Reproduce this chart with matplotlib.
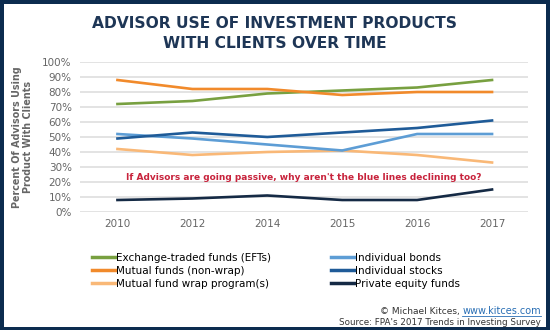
import matplotlib.pyplot as plt
from matplotlib.patches import Rectangle
from matplotlib.lines import Line2D

# survey years (categorical, evenly spaced)
years = ["2010", "2012", "2014", "2015", "2016", "2017"]

etf = [72, 74, 79, 81, 83, 88]
mutual_nonwrap = [88, 82, 82, 78, 80, 80]
mutual_wrap = [42, 38, 40, 41, 38, 33]
bonds = [52, 49, 45, 41, 52, 52]
stocks = [49, 53, 50, 53, 56, 61]
private_eq = [8, 9, 11, 8, 8, 15]

names = ["Exchange-traded funds (EFTs)", "Mutual funds (non-wrap)", "Mutual fund wrap program(s)",
         "Individual bonds", "Individual stocks", "Private equity funds"]
colors = ["#78a040", "#f18a2b", "#f9b877", "#5d9dd5", "#1f5b98", "#152a45"]
series = [etf, mutual_nonwrap, mutual_wrap, bonds, stocks, private_eq]

navy = "#0c2c4f"
W, H = 550, 330

fig = plt.figure(figsize=(5.5, 3.3), dpi=100)
fig.patch.set_facecolor(navy)
fig.add_artist(Rectangle((3.5 / W, 3 / H), (W - 8) / W, (H - 6.5) / H,
                         transform=fig.transFigure, facecolor="white", edgecolor="none", zorder=0))

fig.text(275 / W, 1 - 23 / H, "ADVISOR USE OF INVESTMENT PRODUCTS", ha="center", va="center",
         fontsize=11.2, fontweight="bold", color="#1e3656")
fig.text(275 / W, 1 - 44 / H, "WITH CLIENTS OVER TIME", ha="center", va="center",
         fontsize=11.2, fontweight="bold", color="#1e3656")

ax = fig.add_axes([80 / W, 1 - 212 / H, 448 / W, 150 / H])
ax.set_facecolor("none")
x = list(range(len(years)))
for vals, c, n in zip(series, colors, names):
    ax.plot(x, vals, color=c, lw=1.9, label=n, zorder=3)

ax.set_xlim(-0.5, 5.48)
ax.set_ylim(0, 100)
ax.set_yticks(range(0, 101, 10))
ax.set_yticklabels([f"{v}%" for v in range(0, 101, 10)])
ax.set_xticks(x)
ax.set_xticklabels(years)
ax.grid(axis="y", color="#dedede", lw=1.2, zorder=0)
for s in ax.spines.values():
    s.set_visible(False)
ax.tick_params(length=0, labelsize=7.5, labelcolor="#666666")
ax.tick_params(axis="x", pad=5)
ax.tick_params(axis="y", pad=6)
ax.set_ylabel("Percent Of Advisors Using\nProduct With Clients", fontsize=6.9,
              fontweight="bold", color="#666666", linespacing=1.15)
ax.yaxis.set_label_coords(-47 / 448, 0.5)

ax.text(2.49, 23, "If Advisors are going passive, why aren't the blue lines declining too?",
        ha="center", va="center", fontsize=6.5, fontweight="bold", color="#c8233c", zorder=4)

handles = [Line2D([0], [0], color=c, lw=2.5) for c in colors]
fig.legend(handles[:3], names[:3], loc="upper left", bbox_to_anchor=(92 / W, 1 - 253 / H),
           frameon=False, fontsize=7.5, handlelength=2.2, handletextpad=0.15,
           borderpad=0, borderaxespad=0, labelspacing=0.28)
fig.legend(handles[3:], names[3:], loc="upper left", bbox_to_anchor=(331 / W, 1 - 253 / H),
           frameon=False, fontsize=7.5, handlelength=2.2, handletextpad=0.15,
           borderpad=0, borderaxespad=0, labelspacing=0.28)

# credit line with underlined link
link = fig.text(541 / W, 1 - 311.5 / H, "www.kitces.com", ha="right", va="center", fontsize=7,
                color="#2a6fb5")
fig.text(541 / W, 1 - 322.5 / H, "Source: FPA's 2017 Trends in Investing Survey", ha="right",
         va="center", fontsize=6.3, color="#333333")
r = fig.canvas.get_renderer()
bb = link.get_window_extent(r)
fig.text(bb.x0 / W, 1 - 311.5 / H, "\u00a9 Michael Kitces, ", ha="right",
         va="center", fontsize=6.5, color="#333333")
fig.add_artist(Line2D([bb.x0 / W, bb.x1 / W], [(bb.y0 + 1) / H] * 2, transform=fig.transFigure,
                      color="#2a6fb5", lw=0.6))

fig.savefig("out.png", dpi=100, facecolor=fig.get_facecolor())
